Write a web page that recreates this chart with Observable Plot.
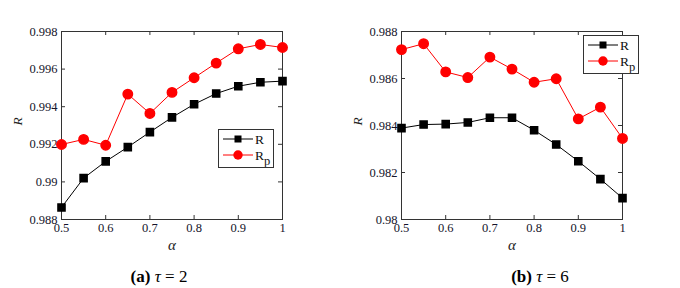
<!DOCTYPE html>
<html><head><meta charset="utf-8">
<script src="https://cdn.jsdelivr.net/npm/d3@7"></script>
<script src="https://cdn.jsdelivr.net/npm/@observablehq/plot@0.6"></script>
<style>
body{margin:0;background:#fff;font-family:"Liberation Serif","Times New Roman",serif;}
#wrap{position:relative;width:680px;height:288px;overflow:hidden;}
.panel{position:absolute;top:0;width:340px;height:288px;}
.panel svg text{font-family:"Liberation Serif","Times New Roman",serif !important;}
.cap{position:absolute;top:267px;font-size:17px;color:#000;white-space:nowrap;transform:translateX(-50%);}
.leg{position:absolute;background:#fff;border:1px solid #333;box-sizing:border-box;}
</style></head><body>
<div id="wrap"></div>
<script>
const alpha = [0.5,0.55,0.6,0.65,0.7,0.75,0.8,0.85,0.9,0.95,1];
// panel (a) tau = 2
const rA  = [0.98864,0.99020,0.99109,0.99185,0.99265,0.99343,0.99413,0.99470,0.99509,0.99530,0.99536];
const rpA = [0.99199,0.99226,0.99195,0.99467,0.99364,0.99476,0.99554,0.99632,0.99708,0.99731,0.99715];
// panel (b) tau = 6
const rB  = [0.98389,0.98404,0.98406,0.98413,0.98433,0.98433,0.98380,0.98319,0.98248,0.98172,0.98091];
const rpB = [0.98723,0.98748,0.98628,0.98604,0.98691,0.98640,0.98584,0.98599,0.98428,0.98478,0.98345];

const xTicks = [0.5,0.6,0.7,0.8,0.9,1];
const yTicksA = [0.988,0.99,0.992,0.994,0.996,0.998];
const yTicksB = [0.98,0.982,0.984,0.986,0.988];
const captionsLetter = ["(a)","(b)"];
const captionsTau = ["2","6"];
const seriesNames = ["R","R_p"];

const W=340,H=288,mL=61,mR=58,mT=31,mB=69;
const fH = H-mT-mB, fW = W-mL-mR;
const fmt = d=>String(+d.toFixed(4));
const TC = "#14142b";

function panel(r, rp, yTicks, yDomain){
  const rows = alpha.map((a,i)=>({a, r:r[i], rp:rp[i]}));
  return Plot.plot({
    width:W, height:H, marginLeft:mL, marginRight:mR, marginTop:mT, marginBottom:mB,
    style:{fontFamily:"Liberation Serif, Times New Roman, serif", fontSize:"12.5px", background:"transparent"},
    x:{domain:[0.5,1], axis:null},
    y:{domain:yDomain, axis:null},
    marks:[
      Plot.text(xTicks,{x:d=>d, text:fmt, frameAnchor:"bottom", dy:12, fontSize:12.5, fill:TC}),
      Plot.text(yTicks,{y:d=>d, text:fmt, frameAnchor:"left", textAnchor:"end", dx:-4, fontSize:12.5, fill:TC}),
      Plot.tickX(xTicks,{x:d=>d, insetTop:fH-4, stroke:"#333"}),
      Plot.tickX(xTicks,{x:d=>d, insetBottom:fH-4, stroke:"#333"}),
      Plot.tickY(yTicks,{y:d=>d, insetRight:fW-4, stroke:"#333"}),
      Plot.tickY(yTicks,{y:d=>d, insetLeft:fW-4, stroke:"#333"}),
      Plot.frame({stroke:"#333", strokeWidth:1}),
      Plot.line(rows,{x:"a", y:"rp", stroke:"#ff0000", strokeWidth:1}),
      Plot.dot(rows,{x:"a", y:"rp", r:4.7, fill:"#ff0000", stroke:"#ff0000"}),
      Plot.line(rows,{x:"a", y:"r", stroke:"#000", strokeWidth:1}),
      Plot.dot(rows,{x:"a", y:"r", symbol:"square", r:4, fill:"#000", stroke:"#000"}),
      Plot.text(["α"],{frameAnchor:"bottom", dy:30, fontStyle:"italic", fontSize:15, fill:"#222"}),
      Plot.text(["R"],{frameAnchor:"left", dx:-44, rotate:-90, fontStyle:"italic", fontSize:13.5, fill:"#222"})
    ]
  });
}

const wrap = document.getElementById("wrap");
const specs = [
  {r:rA, rp:rpA, t:yTicksA, d:[0.988,0.998], left:0, cap:159, leg:{x:218,y:129}},
  {r:rB, rp:rpB, t:yTicksB, d:[0.98,0.988], left:340, cap:540, leg:{x:583,y:35}}
];
specs.forEach((s,i)=>{
  const div=document.createElement("div");
  div.className="panel"; div.style.left=s.left+"px";
  div.appendChild(panel(s.r,s.rp,s.t,s.d));
  wrap.appendChild(div);
  const cap=document.createElement("div");
  cap.className="cap"; cap.style.left=s.cap+"px";
  cap.innerHTML=`<b>${captionsLetter[i]}</b> <i>τ</i> = ${captionsTau[i]}`;
  wrap.appendChild(cap);
  // legend
  const leg=document.createElement("div");
  leg.className="leg";
  leg.style.left=s.leg.x+"px"; leg.style.top=s.leg.y+"px";
  leg.style.width="56px"; leg.style.height="39px";
  const ns="http://www.w3.org/2000/svg";
  const svg=document.createElementNS(ns,"svg");
  svg.setAttribute("width",54); svg.setAttribute("height",37);
  svg.style.display="block";
  seriesNames.forEach((nm,j)=>{
    const y=9+j*16;
    const col=j===0?"#000":"#ff0000";
    const ln=document.createElementNS(ns,"line");
    ln.setAttribute("x1",4);ln.setAttribute("x2",34);ln.setAttribute("y1",y);ln.setAttribute("y2",y);
    ln.setAttribute("stroke",col);ln.setAttribute("stroke-width",1);
    svg.appendChild(ln);
    let m;
    if(j===0){m=document.createElementNS(ns,"rect");m.setAttribute("x",15.5);m.setAttribute("y",y-3.5);m.setAttribute("width",7);m.setAttribute("height",7);}
    else{m=document.createElementNS(ns,"circle");m.setAttribute("cx",19);m.setAttribute("cy",y);m.setAttribute("r",4.7);}
    m.setAttribute("fill",col);
    svg.appendChild(m);
    const tx=document.createElementNS(ns,"text");
    tx.setAttribute("x",36);tx.setAttribute("y",y+4.5);
    tx.setAttribute("font-size",13.5);tx.setAttribute("font-family","Liberation Serif, serif");
    tx.setAttribute("fill","#111");
    const parts=nm.split("_");
    tx.textContent=parts[0];
    if(parts[1]){
      const sub=document.createElementNS(ns,"tspan");
      sub.setAttribute("dy",5);sub.setAttribute("font-size",12.5);
      sub.textContent=parts[1];
      tx.appendChild(sub);
    }
    svg.appendChild(tx);
  });
  leg.appendChild(svg);
  wrap.appendChild(leg);
});
</script>
</body></html>
